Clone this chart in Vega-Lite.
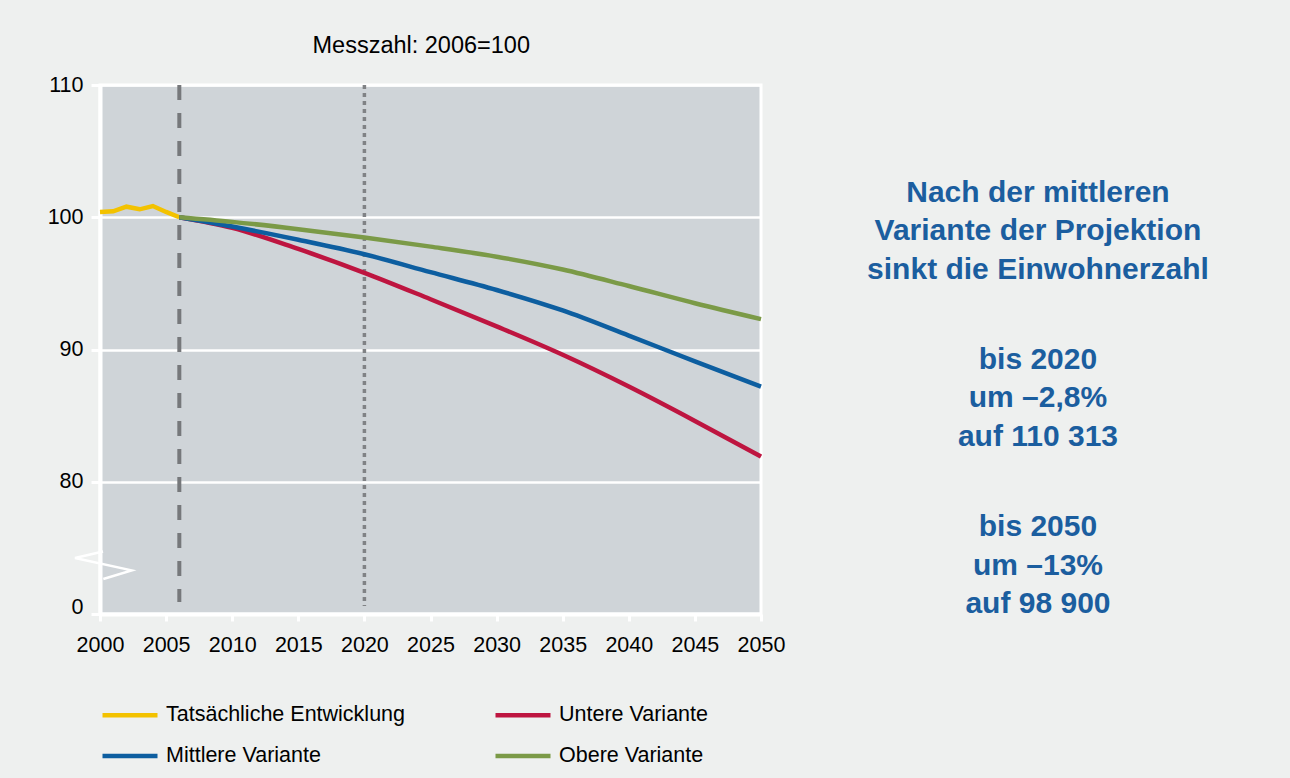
{
  "$schema": "https://vega.github.io/schema/vega-lite/v6.json",
  "width": 661,
  "height": 529,
  "autosize": {"type": "none"},
  "padding": {"left": 100, "top": 85, "right": 529, "bottom": 164},
  "background": "#eef0ef",
  "config": {
    "font": "Liberation Sans",
    "view": {"fill": "#cfd4d8", "stroke": "#ffffff", "strokeWidth": 3},
    "axis": {
      "domainColor": "#ffffff",
      "domainWidth": 4,
      "tickColor": "#ffffff",
      "tickWidth": 3,
      "labelColor": "#000000",
      "labelFont": "Liberation Sans",
      "labelFontSize": 21.5,
      "labelFlush": false,
      "labelOverlap": false,
      "gridColor": "#ffffff",
      "gridWidth": 2.5,
      "gridOpacity": 1
    }
  },
  "datasets": {
    "series": [
      {"year": 2000, "value": 100.4, "series": "Tatsächliche Entwicklung"},
      {"year": 2001, "value": 100.45, "series": "Tatsächliche Entwicklung"},
      {"year": 2002, "value": 100.8, "series": "Tatsächliche Entwicklung"},
      {"year": 2003, "value": 100.6, "series": "Tatsächliche Entwicklung"},
      {"year": 2004, "value": 100.85, "series": "Tatsächliche Entwicklung"},
      {"year": 2005, "value": 100.4, "series": "Tatsächliche Entwicklung"},
      {"year": 2006, "value": 100, "series": "Tatsächliche Entwicklung"},
      {"year": 2006, "value": 100, "series": "Untere Variante"},
      {"year": 2010, "value": 99.2, "series": "Untere Variante"},
      {"year": 2015, "value": 97.6, "series": "Untere Variante"},
      {"year": 2020, "value": 95.8, "series": "Untere Variante"},
      {"year": 2025, "value": 93.8, "series": "Untere Variante"},
      {"year": 2030, "value": 91.75, "series": "Untere Variante"},
      {"year": 2035, "value": 89.6, "series": "Untere Variante"},
      {"year": 2040, "value": 87.2, "series": "Untere Variante"},
      {"year": 2045, "value": 84.6, "series": "Untere Variante"},
      {"year": 2050, "value": 81.9, "series": "Untere Variante"},
      {"year": 2006, "value": 100, "series": "Mittlere Variante"},
      {"year": 2010, "value": 99.3, "series": "Mittlere Variante"},
      {"year": 2015, "value": 98.3, "series": "Mittlere Variante"},
      {"year": 2020, "value": 97.2, "series": "Mittlere Variante"},
      {"year": 2025, "value": 95.85, "series": "Mittlere Variante"},
      {"year": 2030, "value": 94.5, "series": "Mittlere Variante"},
      {"year": 2035, "value": 92.95, "series": "Mittlere Variante"},
      {"year": 2040, "value": 91.05, "series": "Mittlere Variante"},
      {"year": 2045, "value": 89.1, "series": "Mittlere Variante"},
      {"year": 2050, "value": 87.2, "series": "Mittlere Variante"},
      {"year": 2006, "value": 100, "series": "Obere Variante"},
      {"year": 2010, "value": 99.65, "series": "Obere Variante"},
      {"year": 2015, "value": 99.1, "series": "Obere Variante"},
      {"year": 2020, "value": 98.47, "series": "Obere Variante"},
      {"year": 2025, "value": 97.78, "series": "Obere Variante"},
      {"year": 2030, "value": 97.02, "series": "Obere Variante"},
      {"year": 2035, "value": 96.05, "series": "Obere Variante"},
      {"year": 2040, "value": 94.8, "series": "Obere Variante"},
      {"year": 2045, "value": 93.5, "series": "Obere Variante"},
      {"year": 2050, "value": 92.3, "series": "Obere Variante"}
    ],
    "breakmark": [
      {"year": 2000.23, "value": 74.73, "o": 1},
      {"year": 1998.11, "value": 74.23, "o": 2},
      {"year": 2002.39, "value": 73.3, "o": 3},
      {"year": 2000.25, "value": 72.65, "o": 4}
    ],
    "notes": [
      {"year": 2024.3, "value": 112.95, "text": "Messzahl: 2006=100"}
    ],
    "blocks": [
      {"year": 2070.95, "value": 101.85, "text": "Nach der mittleren\nVariante der Projektion\nsinkt die Einwohnerzahl"},
      {"year": 2070.95, "value": 89.22, "text": "bis 2020\num –2,8%\nauf 110 313"},
      {"year": 2070.95, "value": 76.55, "text": "bis 2050\num –13%\nauf 98 900"}
    ]
  },
  "encoding": {
    "x": {
      "field": "year",
      "type": "quantitative",
      "scale": {"domain": [2000, 2050], "nice": false, "zero": false},
      "axis": {
        "values": [2000, 2005, 2010, 2015, 2020, 2025, 2030, 2035, 2040, 2045, 2050],
        "format": "d",
        "title": null,
        "grid": false,
        "tickSize": 7,
        "labelPadding": 13
      }
    },
    "y": {
      "field": "value",
      "type": "quantitative",
      "scale": {"domain": [70, 110], "nice": false, "zero": false},
      "axis": {
        "values": [70, 80, 90, 100, 110],
        "labelExpr": "datum.value == 70 ? '0' : datum.label",
        "labelOffset": {"condition": {"test": "datum.value == 70", "value": -7}, "value": 0},
        "title": null,
        "grid": true,
        "tickSize": 9,
        "labelPadding": 8
      }
    }
  },
  "layer": [
    {
      "data": {"values": [{"year": 2006, "value": 110, "value2": 70.9}]},
      "mark": {"type": "rule", "color": "#76787b", "strokeWidth": 4, "strokeDash": [15, 13]},
      "encoding": {
        "y2": {"field": "value2"}
      }
    },
    {
      "data": {"values": [{"year": 2020, "value": 110, "value2": 70.6}]},
      "mark": {"type": "rule", "color": "#808285", "strokeWidth": 3.5, "strokeDash": [4, 4]},
      "encoding": {
        "y2": {"field": "value2"}
      }
    },
    {
      "data": {"name": "series"},
      "transform": [{"filter": "datum.series == 'Tatsächliche Entwicklung'"}],
      "mark": {"type": "line", "strokeWidth": 4.5},
      "encoding": {
        "color": {
          "field": "series",
          "type": "nominal",
          "scale": {
            "domain": ["Tatsächliche Entwicklung", "Untere Variante", "Mittlere Variante", "Obere Variante"],
            "range": ["#f3c200", "#be1540", "#0d5ea0", "#7b9a47"]
          },
          "legend": {
            "title": null,
            "orient": "none",
            "legendX": 0,
            "legendY": 600,
            "columns": 2,
            "direction": "horizontal",
            "symbolType": "stroke",
            "symbolSize": 3025,
            "symbolStrokeWidth": 4.5,
            "labelFont": "Liberation Sans",
            "labelFontSize": 21.5,
            "labelColor": "#000000",
            "labelOffset": 6,
            "labelLimit": 400,
            "columnPadding": 80,
            "rowPadding": -14
          }
        }
      }
    },
    {
      "data": {"name": "series"},
      "transform": [{"filter": "datum.series != 'Tatsächliche Entwicklung'"}],
      "mark": {"type": "line", "strokeWidth": 4.5, "interpolate": "monotone"},
      "encoding": {
        "color": {
          "field": "series",
          "type": "nominal",
          "scale": {
            "domain": ["Tatsächliche Entwicklung", "Untere Variante", "Mittlere Variante", "Obere Variante"],
            "range": ["#f3c200", "#be1540", "#0d5ea0", "#7b9a47"]
          },
          "legend": {
            "title": null,
            "orient": "none",
            "legendX": 0,
            "legendY": 600,
            "columns": 2,
            "direction": "horizontal",
            "symbolType": "stroke",
            "symbolSize": 3025,
            "symbolStrokeWidth": 4.5,
            "labelFont": "Liberation Sans",
            "labelFontSize": 21.5,
            "labelColor": "#000000",
            "labelOffset": 6,
            "labelLimit": 400,
            "columnPadding": 80,
            "rowPadding": -14
          }
        }
      }
    },
    {
      "data": {"name": "breakmark"},
      "mark": {"type": "line", "color": "#ffffff", "strokeWidth": 2.5},
      "encoding": {
        "order": {"field": "o", "type": "quantitative"}
      }
    },
    {
      "data": {"name": "notes"},
      "mark": {"type": "text", "fontSize": 23.5, "color": "#000000", "align": "center", "baseline": "middle"},
      "encoding": {
        "text": {"field": "text"}
      }
    },
    {
      "data": {"name": "blocks"},
      "mark": {"type": "text", "fontSize": 30, "fontWeight": "bold", "color": "#1b5e9f", "align": "center", "baseline": "middle", "lineBreak": "\n", "lineHeight": 38.5},
      "encoding": {
        "text": {"field": "text"}
      }
    }
  ]
}
